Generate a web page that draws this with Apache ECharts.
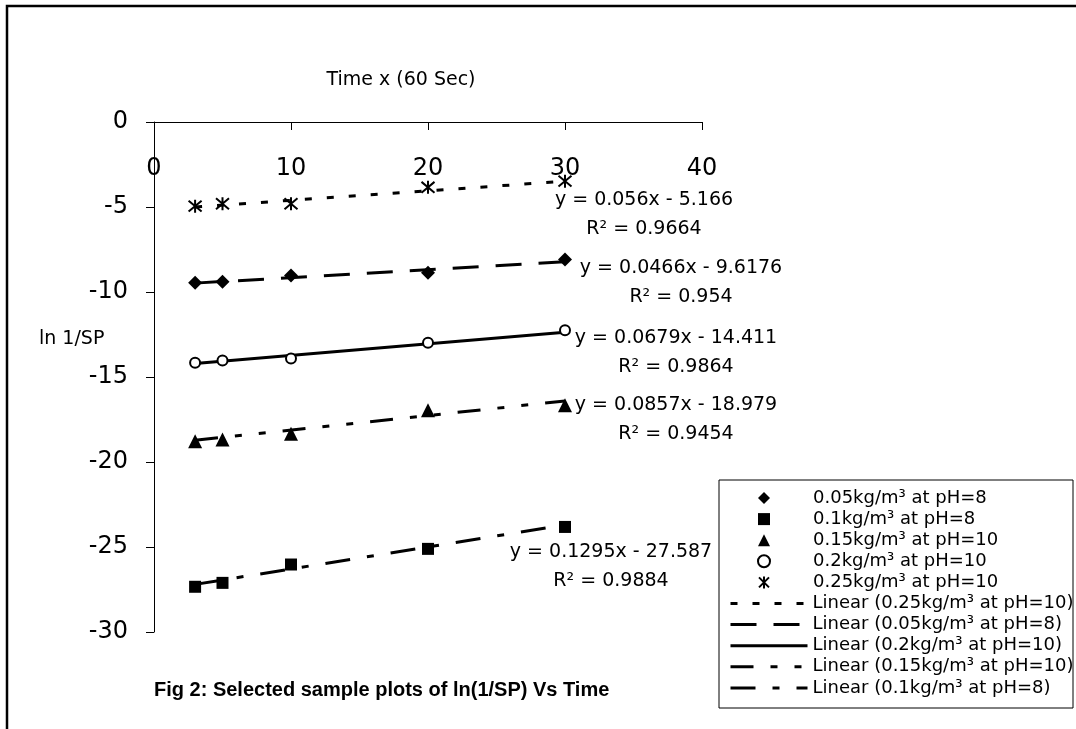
<!DOCTYPE html>
<html>
<head>
<meta charset="utf-8">
<script src="https://cdn.jsdelivr.net/npm/echarts@6/dist/echarts.min.js"></script>
<style>
  html, body { margin: 0; padding: 0; background: #fff; }
  #chart { width: 1076px; height: 729px; }
</style>
</head>
<body>
<div id="chart"></div>
<script>
// time, in units of 60 s
var times = [3, 5, 10, 20, 30];

var seriesNames = ['0.05kg/m³ at pH=8', '0.1kg/m³ at pH=8', '0.15kg/m³ at pH=10', '0.2kg/m³ at pH=10', '0.25kg/m³ at pH=10'];

// ln(1/SP)
var ln005 = [-9.46, -9.40, -9.03, -8.87, -8.09];
var ln01 = [-27.34, -27.11, -26.03, -25.11, -23.82];
var ln015 = [-18.78, -18.68, -18.34, -16.95, -16.66];
var ln02 = [-14.16, -14.03, -13.91, -12.99, -12.25];
var ln025 = [-4.95, -4.81, -4.81, -3.84, -3.48];

// linear trendlines as printed on the chart
var slopes = [0.0466, 0.1295, 0.0857, 0.0679, 0.056];
var intercepts = [-9.6176, -27.587, -18.979, -14.411, -5.166];
var rSquared = [0.954, 0.9884, 0.9454, 0.9864, 0.9664];

// legend order of the trendlines (index into seriesNames)
var trendOrder = [4, 0, 3, 2, 1];

var allValues = [ln005, ln01, ln015, ln02, ln025];

var FONT = 'DejaVu Sans';
var asterisk = 'path://M0,0L10,10M10,0L0,10M5,-1L5,11';

var symbols = ['diamond', 'rect', 'triangle', 'circle', asterisk];
var symbolSizes = [14, 12, 14, 10, 13];
var dashTypes = [[26, 17], [25, 17, 7, 17], [23, 17, 7, 17, 7, 17], 'solid', [7, 15]];

// centre of each equation label (pixels)
var eqPos = [[681, 268], [611, 552], [676, 405], [676, 338], [644, 200]];

var series = [];
var markerNames = [];
var trendNames = [];

seriesNames.forEach(function (name, i) {
    var style = { color: '#000', opacity: 1 };
    if (i === 3) style = { color: '#fff', borderColor: '#000', borderWidth: 2, opacity: 1 };
    if (i === 4) style = { color: 'transparent', borderColor: '#000', borderWidth: 2, opacity: 1 };
    series.push({
        name: name,
        type: 'scatter',
        z: 3,
        symbol: symbols[i],
        symbolSize: symbolSizes[i],
        itemStyle: style,
        data: times.map(function (t, k) { return [t, allValues[i][k]]; })
    });
    markerNames.push(name);
});

trendOrder.forEach(function (i) {
    var x0 = times[0], x1 = times[times.length - 1];
    var name = 'Linear (' + seriesNames[i] + ')';
    series.push({
        name: name,
        type: 'line',
        z: 2,
        symbol: 'none',
        itemStyle: { opacity: 0 },
        lineStyle: { color: '#000', width: 3, type: dashTypes[i], opacity: 1 },
        data: [[x0, slopes[i] * x0 + intercepts[i]], [x1, slopes[i] * x1 + intercepts[i]]]
    });
    trendNames.push(name);
});

var graphics = [
    { type: 'rect', shape: { x: 7, y: 6, width: 1100, height: 800 },
      style: { fill: 'none', stroke: '#000', lineWidth: 2.5 }, silent: true },
    { type: 'rect', shape: { x: 719, y: 480, width: 354, height: 228 },
      style: { fill: '#fff', stroke: '#000', lineWidth: 1 }, z: -1 },
    { type: 'text', x: 401, y: 80,
      style: { text: 'Time x (60 Sec)', fontFamily: FONT, fontSize: 19, fill: '#000', align: 'center', verticalAlign: 'middle' } },
    { type: 'text', x: 39, y: 339,
      style: { text: 'ln 1/SP', fontFamily: FONT, fontSize: 19, fill: '#000', align: 'left', verticalAlign: 'middle' } },
    { type: 'text', x: 154, y: 690,
      style: { text: 'Fig 2: Selected sample plots of ln(1/SP) Vs Time', fontFamily: 'Liberation Sans', fontWeight: 'bold', fontSize: 20, fill: '#000', align: 'left', verticalAlign: 'middle' } }
];

eqPos.forEach(function (p, i) {
    var sign = intercepts[i] < 0 ? ' - ' : ' + ';
    graphics.push({ type: 'text', x: p[0], y: p[1],
        style: { text: 'y = ' + slopes[i] + 'x' + sign + Math.abs(intercepts[i]), fontFamily: FONT, fontSize: 19, fill: '#000', align: 'center', verticalAlign: 'middle' } });
    graphics.push({ type: 'text', x: p[0], y: p[1] + 29,
        style: { text: 'R² = ' + rSquared[i], fontFamily: FONT, fontSize: 19, fill: '#000', align: 'center', verticalAlign: 'middle' } });
});

var legendText = { fontFamily: FONT, fontSize: 18, lineHeight: 18, color: '#000' };

var chart = echarts.init(document.getElementById('chart'));

var option = {
    backgroundColor: '#fff',
    animation: false,
    color: ['#000'],
    grid: { left: 154, right: 374, top: 122, bottom: 97 },
    xAxis: {
        type: 'value',
        position: 'top',
        min: 0,
        max: 40,
        interval: 10,
        axisLine: { onZero: false, lineStyle: { color: '#000', width: 1 } },
        axisTick: { show: true, inside: true, length: 8, lineStyle: { color: '#000' } },
        axisLabel: { inside: true, margin: 35, showMinLabel: true, showMaxLabel: true,
            fontFamily: FONT, fontSize: 24, color: '#000' },
        splitLine: { show: false }
    },
    yAxis: {
        type: 'value',
        min: -30,
        max: 0,
        interval: 5,
        axisLine: { show: true, onZero: false, lineStyle: { color: '#000', width: 1 } },
        axisTick: { show: true, length: 8, lineStyle: { color: '#000' } },
        axisLabel: { margin: 26, fontFamily: FONT, fontSize: 24, color: '#000' },
        splitLine: { show: false }
    },
    legend: [{
        // marker entries
        data: markerNames,
        orient: 'vertical',
        left: 757,
        top: 489,
        padding: 0,
        itemWidth: 12,
        itemHeight: 12,
        itemGap: 3.1,
        selectedMode: false,
        textStyle: Object.assign({ padding: [0, 0, 0, 38] }, legendText)
    }, {
        // trendline entries
        data: trendNames,
        orient: 'vertical',
        left: 729,
        top: 594.5,
        padding: 0,
        itemWidth: 77,
        itemHeight: 12,
        itemGap: 3.1,
        selectedMode: false,
        lineStyle: { width: 3 },
        textStyle: legendText
    }],
    graphic: graphics,
    series: series
};

chart.setOption(option);
</script>
</body>
</html>
